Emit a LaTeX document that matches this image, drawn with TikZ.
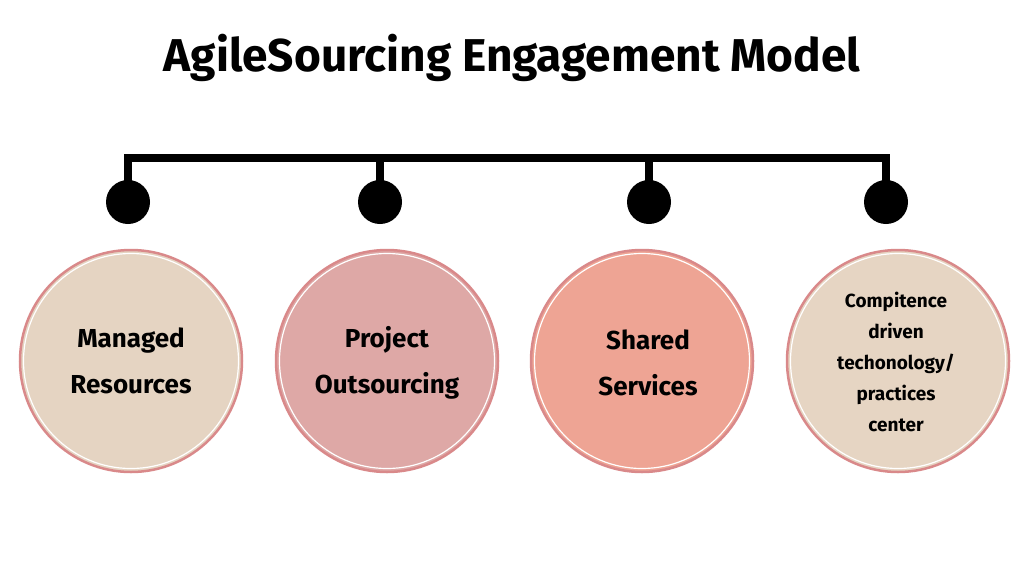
\documentclass[tikz,border=0pt]{standalone}
\usepackage{fontspec}
\setmainfont{Fira Sans}
\begin{document}
\begin{tikzpicture}[x=1pt,y=-1pt,
  big/.style={circle,minimum size=222pt,draw=#1!80!black!70,line width=2.5pt,align=center,inner sep=0pt},
  dot/.style={circle,fill=black,minimum size=44pt,inner sep=0pt},
  lbl/.style={font=\fontsize{26}{46}\selectfont\bfseries,align=center}]
\useasboundingbox (0,0) rectangle (1024,576);
\definecolor{cA}{HTML}{E5D4C2}\definecolor{cB}{HTML}{DEA8A6}
\definecolor{cC}{HTML}{EEA494}\definecolor{cD}{HTML}{E6D5C3}
\definecolor{ring}{HTML}{D9898A}
\node (title) at (512,58) {\fontsize{46}{50}\selectfont\bfseries AgileSourcing Engagement Model};
\coordinate (L) at (125,158); \coordinate (R) at (886,158);
\draw[line width=8pt] (L) -- (R);
\foreach \x/\n in {128/d1,380/d2,649/d3,886/d4}{
  \node[dot] (\n) at (\x,202) {};
  \draw[line width=8pt] (\x,154) -- (\n.center);
}
\foreach \x/\c/\n in {131/cA/c1,387/cB/c2,642/cC/c3,898/cD/c4}{
  \node[circle,minimum size=222pt,fill=\c,draw=ring,line width=2.5pt] (\n) at (\x,361) {};
  \draw[white,line width=1.2pt] (\x,361) circle (107.5);
}
\node[lbl] at (c1) {Managed\\Resources};
\node[lbl] at (387,363) {Project\\Outsourcing};
\node[lbl] at (648,363) {Shared\\Services};
\node[font=\fontsize{19}{31}\selectfont\bfseries,align=center] at (896,362) {Compitence\\driven\\techonology/\\practices\\center};
\end{tikzpicture}
\end{document}
